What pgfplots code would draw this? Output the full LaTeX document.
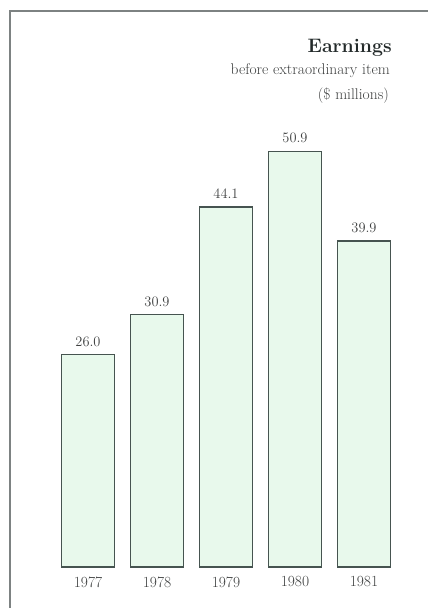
\documentclass[border=0pt]{standalone}
\usepackage{pgfplots}
\pgfplotsset{compat=1.18}
\definecolor{barfill}{RGB}{232,249,236}
\definecolor{barline}{RGB}{70,84,80}
\definecolor{txt}{RGB}{62,64,64}
\definecolor{ttl}{RGB}{35,42,42}
\definecolor{framec}{RGB}{125,130,130}
\begin{document}
\begin{tikzpicture}[x=1pt,y=1pt]
\path[use as bounding box] (0,0) rectangle (428,608);
\draw[framec, line width=1.5pt] (10,0) -- (10,597) -- (428,597);
\begin{axis}[
  at={(53.5pt,41pt)}, anchor=south west, scale only axis,
  width=345pt, height=430pt,
  xmin=-0.5, xmax=4.5, ymin=0, ymax=52.66,
  ybar, bar width=53pt,
  xtick={0,...,4}, xticklabels={1977,1978,1979,1980,1981},
  ytick=\empty,
  axis line style={draw=none}, major tick length=0pt,
  clip=false,
  tick label style={font=\fontsize{15.5}{18}\selectfont, text=txt},
  xticklabel style={yshift=-6pt},
  nodes near coords={\pgfmathprintnumber[fixed,fixed zerofill,precision=1]{\pgfplotspointmeta}},
  every node near coord/.append style={font=\fontsize{15.5}{18}\selectfont, text=txt, yshift=4.5pt},
]
\addplot[draw=barline, fill=barfill, line width=1.4pt] coordinates {(0,26.0)(1,30.9)(2,44.1)(3,50.9)(4,39.9)};
\end{axis}
\node[anchor=base east, inner sep=0pt, text=ttl, font=\fontsize{19.5}{22}\selectfont\bfseries] at (392,555) {Earnings};
\node[anchor=base east, inner sep=0pt, text=txt, font=\fontsize{15.5}{18}\selectfont] at (390,533) {before extraordinary item};
\node[anchor=base east, inner sep=0pt, text=txt, font=\fontsize{15.5}{18}\selectfont] at (389,508) {(\$ millions)};
\end{tikzpicture}
\end{document}
